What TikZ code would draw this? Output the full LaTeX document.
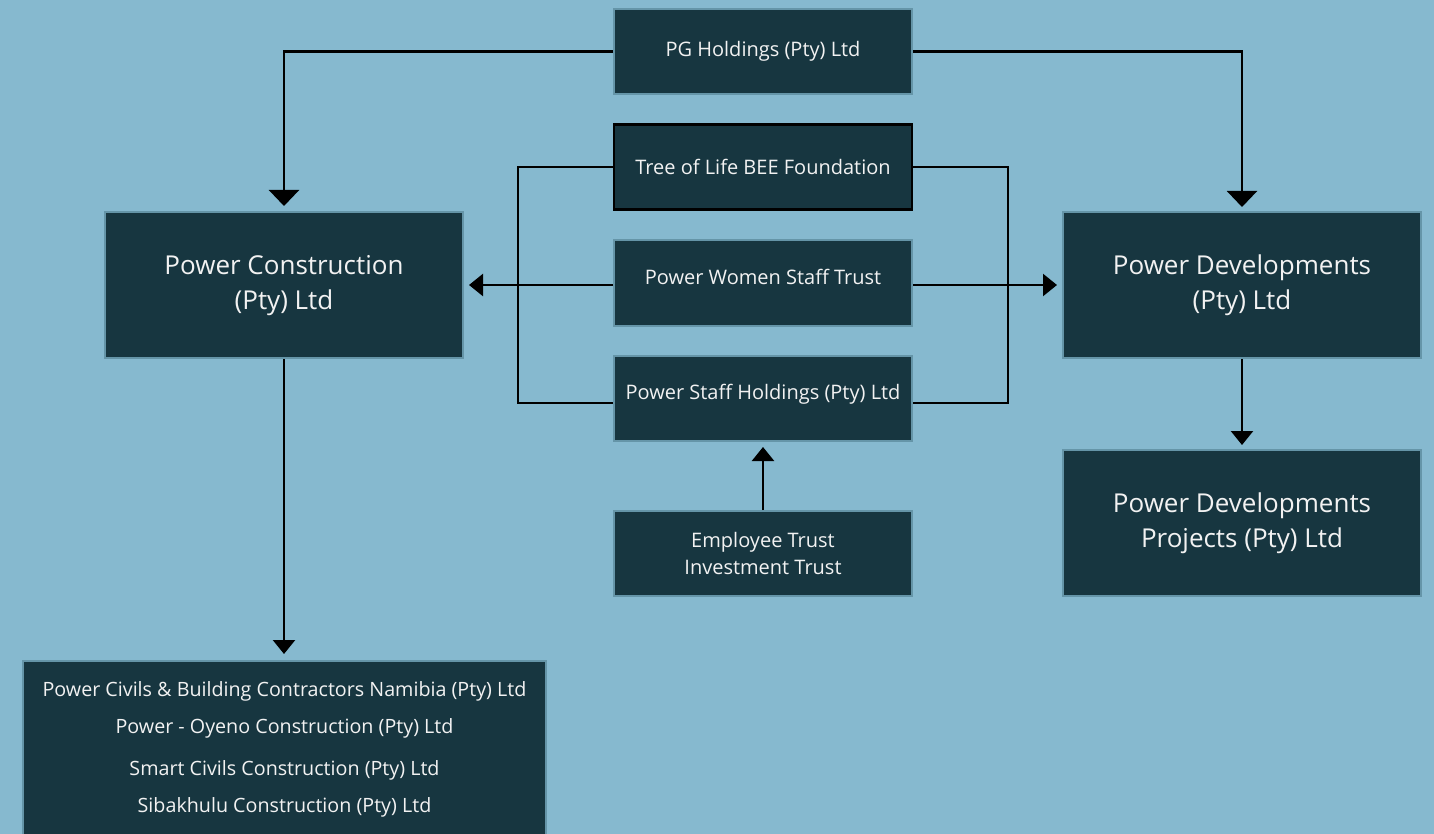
\documentclass[tikz,border=0pt]{standalone}
\usepackage{fontspec}
\setmainfont{Open Sans}
\usetikzlibrary{arrows.meta}
\definecolor{bg}{HTML}{86B9CF}
\definecolor{boxfill}{HTML}{173640}
\definecolor{boxedge}{HTML}{6595A8}
\definecolor{txt}{HTML}{F2F2F2}
\tikzset{
  box/.style={draw=boxedge, line width=2pt, fill=boxfill, text=txt, align=center, inner sep=0pt},
  smallbox/.style={box, minimum width=298pt, minimum height=85pt, font=\fontsize{20}{27}\selectfont},
  bigbox/.style={box, minimum width=358pt, minimum height=146pt, font=\fontsize{26}{35}\selectfont},
  conn/.style={line width=2.4pt, draw=black},
  arr/.style={conn, -{Triangle[length=14pt,width=22pt]}},
  bigarr/.style={conn, -{Triangle[length=16pt,width=30pt]}},
}
\begin{document}
\begin{tikzpicture}[x=1pt,y=-1pt]
\useasboundingbox (0,0) rectangle (1434,834);
\clip (0,0) rectangle (1434,834);
\fill[bg] (0,0) rectangle (1434,834);

\node[smallbox] (pg) at (763,51.5) {PG Holdings (Pty) Ltd};
\node[smallbox, draw=black, line width=2.5pt] (tol) at (763,167) {Tree of Life BEE Foundation};
\node[smallbox] (women) at (763,283) {\raisebox{12pt}{Power Women Staff Trust}};
\node[smallbox] (staff) at (763,398.5) {\raisebox{14pt}{Power Staff Holdings (Pty) Ltd}};
\node[smallbox] (emp) at (763,553.5) {Employee Trust\\Investment Trust};

\node[bigbox] (pc) at (284,285) {\raisebox{9pt}{\begin{tabular}{@{}c@{}}Power Construction\\(Pty) Ltd\end{tabular}}};
\node[bigbox] (pd) at (1242,285) {\raisebox{9pt}{\begin{tabular}{@{}c@{}}Power Developments\\(Pty) Ltd\end{tabular}}};
\node[bigbox] (pdp) at (1242,523) {\raisebox{9pt}{\begin{tabular}{@{}c@{}}Power Developments\\Projects (Pty) Ltd\end{tabular}}};

\node[box, minimum width=523pt, minimum height=200pt, anchor=north] (subs) at (284.5,660) {};
\node[text=txt, align=center, font=\fontsize{19.7}{37}\selectfont, anchor=center] (substext) at (284.5,749)
  {Power Civils \& Building Contractors Namibia (Pty) Ltd\\
   Power - Oyeno Construction (Pty) Ltd\\[5pt]
   Smart Civils Construction (Pty) Ltd\\
   Sibakhulu Construction (Pty) Ltd};

% connectors
\draw[bigarr] (pg.west) -| ([yshift=5pt]pc.north);
\draw[bigarr] (pg.east) -| ([yshift=4pt]pd.north);
\draw[conn] (tol.west) -- ++(-95,0) |- ([yshift=-4.5pt]staff.west);
\draw[conn] (tol.east) -- ++(95,0) |- ([yshift=-4.5pt]staff.east);
\draw[arr] ([yshift=-2pt]women.west) -- ([xshift=5pt,yshift=-2pt]pc.east |- women.west);
\draw[arr] ([yshift=-2pt]women.east) -- ([xshift=-5pt,yshift=-2pt]pd.west |- women.east);
\draw[arr] (pc.south) -- ([yshift=6pt]subs.north -| pc.south);
\draw[arr] (pd.south) -- ([yshift=4pt]pdp.north);
\draw[arr] (emp.north) -- ([yshift=-5pt]staff.south);
\end{tikzpicture}
\end{document}
